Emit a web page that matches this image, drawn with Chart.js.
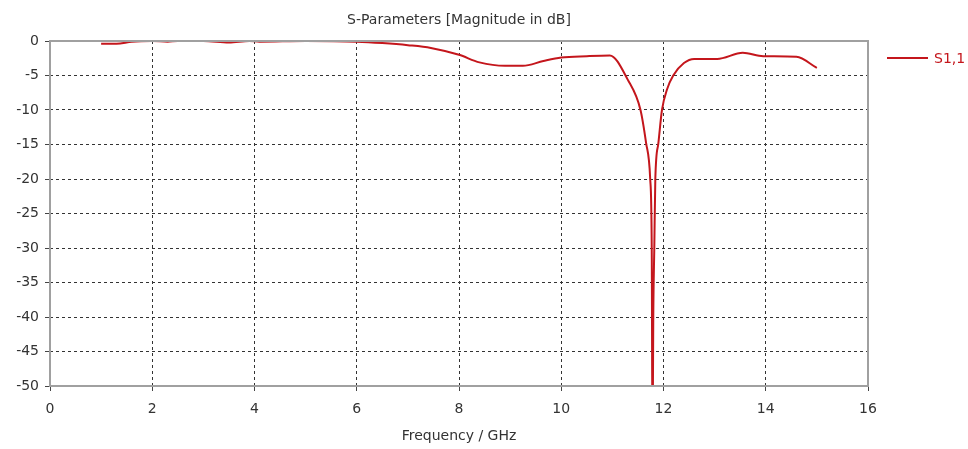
<!DOCTYPE html>
<html>
<head>
<meta charset="utf-8">
<script src="https://cdn.jsdelivr.net/npm/chart.js@4.4.0/dist/chart.umd.min.js"></script>
<style>
  html, body { margin: 0; padding: 0; background: #fff; }
  #wrap { width: 968px; height: 449px; }
</style>
</head>
<body>
<div id="wrap"><canvas id="sparam" width="968" height="449"></canvas></div>
<script>
// S1,1 (frequency in GHz, magnitude in dB)
const freqGHz = [1.0, 1.3, 1.6, 2.0, 2.3, 2.5, 3.0, 3.5, 3.9, 4.1, 5.0, 6.0, 6.5, 7.0, 7.45, 8.0, 8.4, 8.9, 9.25, 9.65, 10.0, 10.5, 10.95, 11.3, 11.55, 11.66, 11.74, 11.77, 11.785, 11.80, 11.82, 11.84, 11.90, 11.97, 12.07, 12.19, 12.4, 12.6, 13.05, 13.55, 13.95, 14.6, 15.0];
const s11dB   = [-0.4, -0.4, -0.1, 0.0, -0.1, 0.0, 0.0, -0.2, 0.0, -0.1, 0.0, -0.1, -0.3, -0.6, -1.0, -2.0, -3.1, -3.6, -3.6, -2.9, -2.4, -2.2, -2.1, -5.6, -10, -14.8, -20, -30, -60, -40, -30, -20, -14.8, -10, -7, -5, -3.2, -2.6, -2.6, -1.7, -2.2, -2.3, -3.9];
const xTicks = [0, 16, 2];   // min, max, step
const yTicks = [-50, 0, 5];
const seriesName = 'S1,1';
const chartTitle = 'S-Parameters [Magnitude in dB]';

const lineColor = '#c4161c';
const points = freqGHz.map((f, i) => ({ x: f, y: s11dB[i] }));

const frame = {
  id: 'frame',
  afterDraw(chart) {
    const { ctx, chartArea: a } = chart;
    ctx.save();
    ctx.strokeStyle = '#a0a0a0';
    ctx.lineWidth = 2;
    ctx.strokeRect(a.left, a.top, a.right - a.left, a.bottom - a.top);
    // title, centred on the plot
    ctx.fillStyle = '#333';
    ctx.font = '14px "DejaVu Sans"';
    ctx.textAlign = 'center';
    ctx.textBaseline = 'middle';
    ctx.fillText(chartTitle, (a.left + a.right) / 2, 20);
    // legend
    const y = a.top + 17;
    ctx.strokeStyle = lineColor;
    ctx.lineWidth = 2;
    ctx.beginPath();
    ctx.moveTo(a.right + 19, y);
    ctx.lineTo(a.right + 60, y);
    ctx.stroke();
    ctx.fillStyle = lineColor;
    ctx.textAlign = 'left';
    ctx.fillText(seriesName, a.right + 66, y + 1);
    ctx.restore();
  }
};

const tickFont = { family: '"DejaVu Sans"', size: 14 };

new Chart(document.getElementById('sparam'), {
  type: 'line',
  data: {
    datasets: [{
      label: seriesName,
      data: points,
      borderColor: lineColor,
      borderWidth: 2,
      pointRadius: 0,
      cubicInterpolationMode: 'monotone',
      fill: false
    }]
  },
  options: {
    responsive: false,
    animation: false,
    layout: { padding: { left: 0, right: 100, top: 41, bottom: 0 } },
    plugins: {
      legend: { display: false },
      tooltip: { enabled: false },
      title: { display: false }
    },
    scales: {
      x: {
        type: 'linear',
        min: xTicks[0], max: xTicks[1],
        ticks: { stepSize: xTicks[2], color: '#333', font: tickFont, padding: 10, maxRotation: 0 },
        grid: { color: '#333', tickBorderDash: [0, 0], tickLength: 5, tickColor: '#444' },
        border: { display: false, dash: [3, 3] },
        title: { display: true, text: 'Frequency / GHz', color: '#333', font: tickFont, padding: { top: 4 } },
        afterFit(s) { s.height = 63; }
      },
      y: {
        type: 'linear',
        min: yTicks[0], max: yTicks[1],
        ticks: { stepSize: yTicks[2], color: '#333', font: tickFont, padding: 6 },
        grid: { color: '#333', tickBorderDash: [0, 0], tickLength: 5, tickColor: '#444' },
        border: { display: false, dash: [3, 3] },
        afterFit(s) { s.width = 50; }
      }
    }
  },
  plugins: [frame]
});
</script>
</body>
</html>
